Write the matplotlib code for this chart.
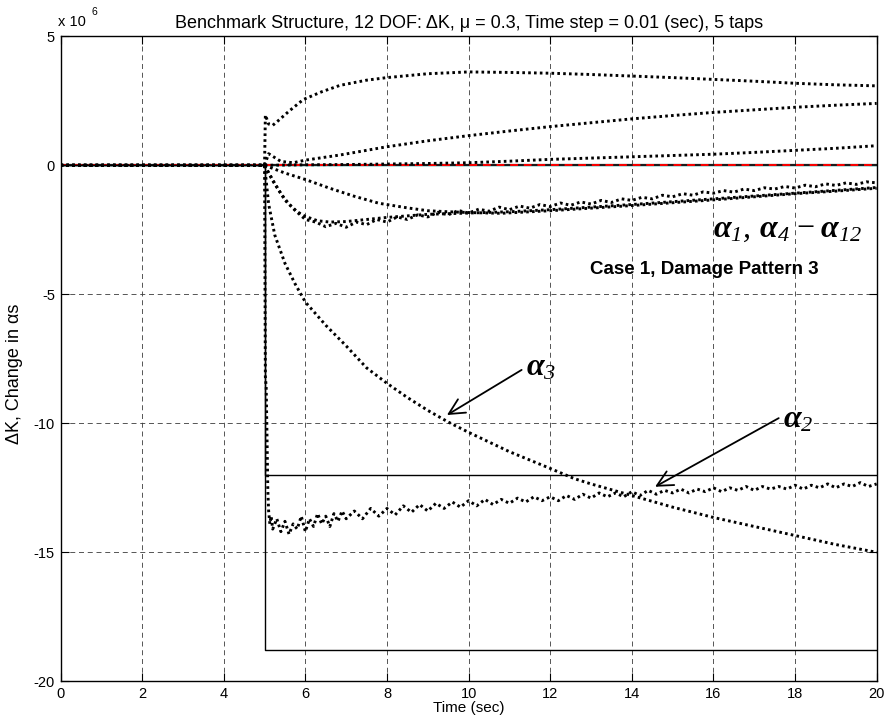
import numpy as np
import matplotlib
matplotlib.use("Agg")
import matplotlib.pyplot as plt

plt.rcParams['font.family'] = ['Liberation Sans', 'DejaVu Sans']
plt.rcParams['axes.unicode_minus'] = False
plt.rcParams['mathtext.fontset'] = 'custom'
plt.rcParams['mathtext.it'] = 'Liberation Serif:italic:bold'
plt.rcParams['mathtext.rm'] = 'Liberation Serif:italic'
plt.rcParams['mathtext.bf'] = 'Liberation Serif:bold'

# ---------------- data (values in units of 1e6) ----------------
title = "Benchmark Structure, 12 DOF: ΔK, μ = 0.3, Time step = 0.01 (sec), 5 taps"
xticks = [0, 2, 4, 6, 8, 10, 12, 14, 16, 18, 20]
yticks = [5, 0, -5, -10, -15, -20]

# reference (true) damage steps
step_t = [0, 5, 5, 20]
step_a2 = [0, 0, -18.8, -18.8]
step_a3 = [0, 0, -12.0, -12.0]
zero_t = [0, 20]
zero_v = [0, 0]

# upper curve
up_t = [0, 5, 5.02, 5.1, 5.2, 5.35, 5.6, 5.95, 6.4, 6.85, 7.5, 8, 9, 10, 11, 12, 13,
        14, 15, 16, 17, 18, 19, 20]
up_v = [0, 0, 1.95, 1.6, 1.55, 1.75, 2.1, 2.55, 2.85, 3.1, 3.3, 3.4, 3.55, 3.62, 3.6,
        3.57, 3.52, 3.46, 3.4, 3.33, 3.26, 3.18, 3.12, 3.08]

# second curve
c2_t = [0, 5, 5.1, 5.2, 5.4, 5.7, 6, 6.85, 8, 9, 10, 11, 12, 13, 14, 15, 16, 17, 18, 19, 20]
c2_v = [0, 0, 0.45, 0.35, 0.15, 0.1, 0.2, 0.4, 0.72, 0.95, 1.15, 1.33, 1.5, 1.65, 1.8,
        1.93, 2.05, 2.15, 2.25, 2.33, 2.4]

# third curve
c3_t = [0, 5, 6, 7, 8, 9, 10, 11, 12, 13, 14, 15, 16, 17, 18, 19, 20]
c3_v = [0, 0, 0.02, 0.03, 0.05, 0.07, 0.1, 0.16, 0.23, 0.28, 0.33, 0.38, 0.43, 0.5,
        0.58, 0.66, 0.76]

# lower smooth curve A
ca_t = [0, 5, 5.5, 6, 6.6, 7.2, 7.8, 8.5, 9, 9.5, 10, 10.8, 12, 13, 14, 15, 16, 17, 18, 19, 20]
ca_v = [0, 0, -0.3, -0.55, -0.89, -1.2, -1.47, -1.65, -1.76, -1.8, -1.83, -1.86, -1.76,
        -1.66, -1.56, -1.45, -1.34, -1.22, -1.1, -1.0, -0.89]

# lower smooth curve C
cc_t = [0, 5, 5.2, 5.4, 5.6, 5.8, 6, 6.3, 6.6, 7, 7.5, 8, 9, 10, 11, 12, 14, 16, 18, 20]
cc_v = [0, 0, -0.6, -1.1, -1.5, -1.8, -1.98, -2.15, -2.2, -2.18, -2.1, -2.02, -1.9,
        -1.85, -1.8, -1.72, -1.52, -1.3, -1.08, -0.86]

# lower noisy curve B
cb_t = [0, 5.0] + list(np.linspace(5.25, 20, 60))
cb_v = [0, 0,
        -0.7, -1.35, -1.75, -2.1, -2.2, -2.38, -2.25, -2.4, -2.2, -2.3, -2.1, -2.2,
        -2.0, -2.1, -1.92, -2.0, -1.82, -1.92, -1.75, -1.85, -1.7, -1.78, -1.62, -1.72,
        -1.58, -1.66, -1.52, -1.6, -1.46, -1.55, -1.42, -1.5, -1.36, -1.44, -1.3, -1.36,
        -1.24, -1.3, -1.16, -1.22, -1.1, -1.16, -1.03, -1.08, -0.98, -1.04, -0.92, -0.98,
        -0.87, -0.92, -0.82, -0.88, -0.77, -0.83, -0.72, -0.78, -0.68, -0.74, -0.64, -0.68]

# alpha 3 estimate
a3_t = [0, 5, 5.1, 5.25, 5.5, 5.75, 6, 6.5, 7, 7.5, 8, 8.5, 9, 9.5, 10, 11, 12, 12.6,
        13, 14, 15, 16, 17, 18, 19, 20]
a3_v = [0, 0, -1.5, -2.7, -3.8, -4.6, -5.3, -6.2, -7.0, -7.85, -8.45, -9.0, -9.5, -9.95,
        -10.35, -11.1, -11.75, -12.15, -12.35, -12.8, -13.25, -13.65, -14.0, -14.35,
        -14.7, -15.0]

# alpha 2 estimate (noisy)
a2_t = ([0, 5.0, 5.02, 5.04, 5.06, 5.08, 5.1, 5.13, 5.16, 5.2]
        + list(np.linspace(5.3, 7.0, 18)) + list(np.linspace(7.2, 20.0, 65)))
a2_v = ([0, 0, -8.2, -8.6, -10.5, -12.6, -13.4, -13.9, -13.6, -14.1]
        + [-13.7, -14.2, -13.8, -14.3, -13.9, -14.1, -13.6, -14.2, -13.7, -14.0, -13.5,
           -13.9, -13.6, -14.0, -13.5, -13.8, -13.4, -13.7]
        + [-13.4, -13.7, -13.3, -13.6, -13.3, -13.55, -13.2, -13.45, -13.15, -13.4,
           -13.1, -13.3, -13.05, -13.25, -13.0, -13.2, -12.95, -13.15, -12.95, -13.1,
           -12.9, -13.05, -12.85, -13.0, -12.85, -13.0, -12.8, -12.95, -12.75, -12.9,
           -12.7, -12.85, -12.7, -12.85, -12.65, -12.8, -12.6, -12.75, -12.6, -12.7,
           -12.55, -12.7, -12.55, -12.65, -12.5, -12.65, -12.5, -12.6, -12.45, -12.6,
           -12.45, -12.55, -12.45, -12.55, -12.4, -12.55, -12.4, -12.5, -12.35, -12.5,
           -12.35, -12.45, -12.3, -12.45, -12.35])

# ---------------- figure ----------------
fig = plt.figure(figsize=(8.9, 7.25), dpi=100)
ax = fig.add_axes([0.068, 0.0603, 0.917, 0.8896])

grid_style = dict(color='#3a3a3a', lw=0.6, linestyle=(0, (6, 4.5)))
ax.grid(True, **grid_style)
ax.set_axisbelow(True)

# zero references
ax.plot(zero_t, zero_v, color='#00c8c8', lw=1.0, zorder=2)
ax.plot(zero_t, zero_v, color='#1a1a1a', lw=1.6, zorder=2)
ax.plot(zero_t, zero_v, color='red', lw=1.4, linestyle=(0, (4, 3)), zorder=2.5)

# true damage steps
ax.plot(step_t, step_a2, color='black', lw=1.0, zorder=3)
ax.plot(step_t, step_a3, color='black', lw=1.0, zorder=3)

dot = dict(color='black', lw=2.1, linestyle=(0, (0.9, 1.1)), zorder=4)
for t, v in [(up_t, up_v), (c2_t, c2_v), (c3_t, c3_v), (ca_t, ca_v), (cc_t, cc_v),
             (cb_t, cb_v), (a3_t, a3_v), (a2_t, a2_v)]:
    ax.plot(t, v, **dot)

ax.set_xlim(0, 20)
ax.set_ylim(-20, 5)
ax.set_xticks(xticks)
ax.set_yticks(yticks)
ax.tick_params(direction='in', top=True, right=True, length=6, width=0.8,
               labelsize=10.5, pad=4)
for s in ax.spines.values():
    s.set_linewidth(1.0)

ax.set_title(title, fontsize=13, pad=6)
ax.set_xlabel("Time (sec)", fontsize=11, labelpad=0)
ax.set_ylabel("ΔK, Change in αs", fontsize=13)
ax.yaxis.set_label_coords(-0.046, 0.477)

# multiplier text
fig.text(58 / 890, 1 - 22 / 725, "x 10", fontsize=10.5, va='center', ha='left')
fig.text(92 / 890, 1 - 12 / 725, "6", fontsize=7.5, va='center', ha='left')

# annotations
ax.text(16.0, -2.45, r"$\alpha_{1},\, \alpha_{4} - \alpha_{12}$", fontsize=23,
        ha='left', va='center', zorder=6)
ax.text(18.57, -4.05, "Case 1, Damage Pattern 3", fontsize=13.5, fontweight='bold',
        ha='right', va='center', zorder=6)

arrow = dict(arrowstyle='->', lw=1.3, color='black', mutation_scale=28,
             shrinkA=0, shrinkB=0)
ax.annotate("", xy=(9.47, -9.68), xytext=(11.3, -7.93), arrowprops=arrow, zorder=6)
ax.text(11.4, -7.85, r"$\alpha_{3}$", fontsize=23, ha='left', va='center', zorder=6)
ax.annotate("", xy=(14.57, -12.46), xytext=(17.6, -9.8), arrowprops=arrow, zorder=6)
ax.text(17.7, -9.85, r"$\alpha_{2}$", fontsize=23, ha='left', va='center', zorder=6)

fig.savefig("out.png", dpi=100)
